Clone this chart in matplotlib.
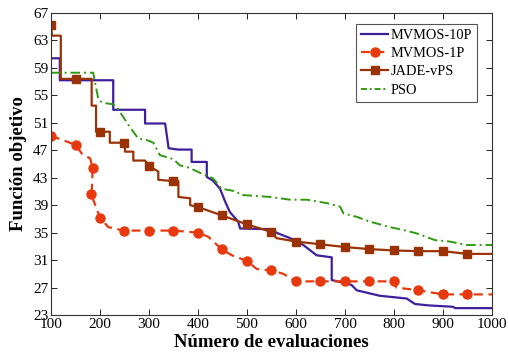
"""Convergence curves: objective function vs. number of evaluations."""

import matplotlib

matplotlib.use("Agg")
import matplotlib.pyplot as plt
from matplotlib.lines import Line2D


# MVMOS-10P (solid, no markers)
mv10_x = [100, 118, 118, 227, 227, 292, 292, 333, 340, 359, 387, 387, 418, 418,
          430, 445, 455, 465, 482, 486, 547, 563, 588, 615, 642, 673, 673, 713,
          724, 771, 826, 843, 870, 920, 925, 1000]
mv10_y = [60.4, 60.4, 57.2, 57.2, 52.9, 52.9, 50.9, 50.9, 47.3, 47.1, 47.1,
          45.3, 45.3, 43.1, 42.6, 41.4, 39.6, 38.0, 36.6, 35.6, 35.5, 34.9,
          34.2, 33.2, 31.7, 31.4, 28.1, 27.4, 26.6, 25.8, 25.4, 24.6, 24.4,
          24.2, 24.0, 24.0]

# MVMOS-1P (dashed, circle markers)
mv1_x = [100, 150, 163, 180, 185, 183, 182, 200, 217, 248, 300, 350, 400, 421,
         448, 469, 499, 520, 550, 574, 600, 650, 700, 750, 800, 805, 850, 900,
         950, 1000]
mv1_y = [49.1, 47.8, 46.5, 45.8, 44.4, 40.6, 40.6, 37.2, 35.8, 35.3, 35.3, 35.3,
         35.0, 34.4, 32.6, 31.7, 30.9, 29.7, 29.5, 29.0, 27.9, 27.9, 27.9, 27.9,
         27.9, 27.0, 26.6, 26.0, 26.0, 26.0]
mv1_mark_x = [100, 150, 185, 182, 200, 250, 300, 350, 400, 450, 500, 550, 600,
              650, 700, 750, 800, 850, 900, 950]
mv1_mark_y = [49.1, 47.8, 44.4, 40.6, 37.2, 35.3, 35.3, 35.3, 35.0, 32.6, 30.9,
              29.5, 27.9, 27.9, 27.9, 27.9, 27.9, 26.6, 26.0, 26.0]

# JADE-vPS (solid, square markers)
jade_x = [100, 102, 120, 120, 183, 183, 192, 192, 220, 220, 251, 251, 268, 268,
          292, 300, 319, 319, 350, 360, 360, 384, 384, 401, 445, 500, 550, 560,
          600, 650, 700, 750, 800, 850, 900, 950, 1000]
jade_y = [65.2, 63.7, 63.7, 57.4, 57.4, 53.5, 53.5, 49.7, 49.7, 48.1, 48.1, 46.8,
          46.8, 45.5, 45.5, 44.7, 43.9, 42.7, 42.5, 42.5, 40.2, 40.0, 39.0, 38.7,
          37.6, 36.2, 35.1, 34.2, 33.7, 33.3, 32.9, 32.6, 32.4, 32.3, 32.3, 31.9,
          31.9]
jade_mark_x = [100, 150, 200, 250, 300, 350, 400, 450, 500, 550, 600, 650, 700,
               750, 800, 850, 900, 950]
jade_mark_y = [65.2, 57.4, 49.7, 48.1, 44.7, 42.5, 38.7, 37.6, 36.2, 35.1, 33.7,
               33.3, 32.9, 32.6, 32.4, 32.3, 32.3, 31.9]

# PSO (dash-dot, no markers)
pso_x = [100, 186, 197, 207, 227, 234, 258, 278, 295, 309, 322, 350, 363, 380,
         411, 431, 448, 479, 486, 547, 588, 622, 663, 690, 697, 724, 751, 792,
         818, 846, 884, 914, 948, 1000]
pso_y = [58.3, 58.3, 54.3, 53.9, 53.7, 53.3, 50.7, 48.7, 48.5, 48.1, 46.3, 45.7,
         44.8, 44.5, 43.5, 42.9, 41.4, 41.0, 40.5, 40.2, 39.8, 39.8, 39.3, 38.8,
         37.8, 37.3, 36.6, 35.8, 35.4, 34.9, 33.9, 33.7, 33.2, 33.2]

x_ticks = list(range(100, 1001, 100))
y_ticks = list(range(23, 68, 4))

C_MV10 = "#3f1f9c"
C_MV1 = "#e8390e"
C_JADE = "#9a3206"
C_PSO = "#2f9a10"

DASH = (0, (4, 2.5))
DASHDOT = (0, (5, 2, 1, 2))


def main() -> None:
    plt.rcParams["font.family"] = ["Liberation Serif", "DejaVu Serif"]

    fig = plt.figure(figsize=(5.08, 3.55), dpi=100)
    ax = fig.add_axes([0.1004, 0.1127, 0.868, 0.8507])

    ax.plot(mv10_x, mv10_y, color=C_MV10, lw=1.6)
    ax.plot(mv1_x, mv1_y, color=C_MV1, lw=1.6, ls=DASH)
    ax.plot(mv1_mark_x, mv1_mark_y, ls="none", marker="o", ms=6.5,
            color=C_MV1)
    ax.plot(jade_x, jade_y, color=C_JADE, lw=1.6)
    ax.plot(jade_mark_x, jade_mark_y, ls="none", marker="s", ms=6,
            color=C_JADE)
    ax.plot(pso_x, pso_y, color=C_PSO, lw=1.4, ls=DASHDOT)

    handles = [
        Line2D([], [], color=C_MV10, lw=1.6),
        Line2D([], [], color=C_MV1, lw=1.6, ls=DASH, marker="o", ms=6.5),
        Line2D([], [], color=C_JADE, lw=1.6, marker="s", ms=6),
        Line2D([], [], color=C_PSO, lw=1.4, ls=(0, (3, 1.5, 1, 1.5))),
    ]
    labels = ["MVMOS-10P", "MVMOS-1P", "JADE-vPS", "PSO"]
    leg = ax.legend(handles, labels, loc="upper right",
                    bbox_to_anchor=(0.966, 0.9636), fontsize=10.4,
                    handlelength=1.9, handletextpad=0.15, labelspacing=0.35,
                    borderpad=0.35, borderaxespad=0, fancybox=False,
                    framealpha=1)
    leg.get_frame().set_edgecolor("#555555")
    leg.get_frame().set_linewidth(0.8)

    ax.set_xlim(100, 1000)
    ax.set_ylim(23, 67)
    ax.set_xticks(x_ticks)
    ax.set_yticks(y_ticks)
    ax.tick_params(direction="in", top=True, right=True, labelsize=11,
                   length=4, width=0.6, pad=2)
    for spine in ax.spines.values():
        spine.set_linewidth(0.8)
        spine.set_color("#333333")

    ax.set_xlabel("Número de evaluaciones", fontsize=13.5, fontweight="bold",
                  labelpad=2)
    ax.set_ylabel("Función objetivo", fontsize=13.5, fontweight="bold",
                  labelpad=4)

    fig.savefig("out.png", dpi=100)
    plt.close(fig)


if __name__ == "__main__":
    main()
